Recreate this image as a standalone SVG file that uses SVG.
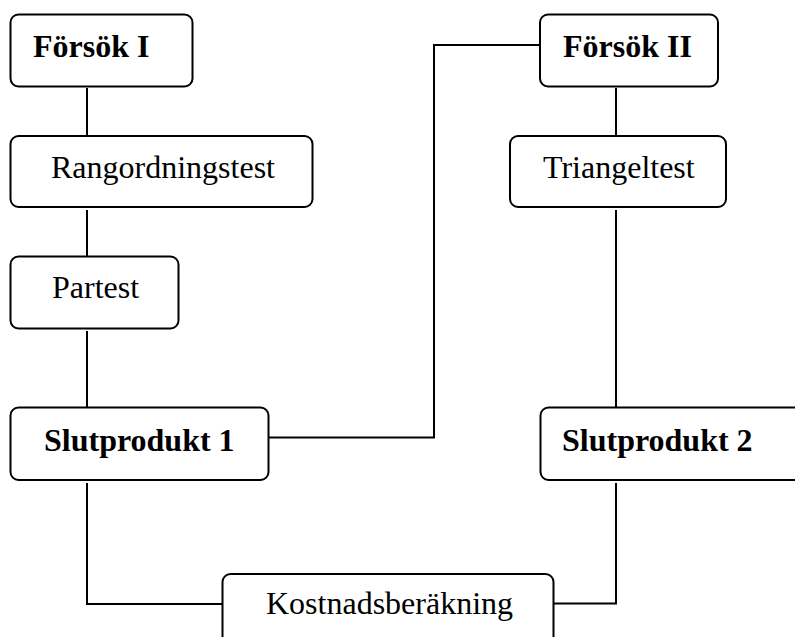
<svg xmlns="http://www.w3.org/2000/svg" width="795" height="637" viewBox="0 0 795 637">
<style>
.box{fill:#fff;stroke:#000;stroke-width:2}
.con{fill:none;stroke:#000;stroke-width:2}
.t{font-family:"Liberation Serif","Times New Roman",serif;font-size:32px;fill:#000}
.b{font-weight:bold}
</style>
<rect width="795" height="637" fill="#fff"/>
<g id="connectors">
<path class="con" d="M87 88V136"/>
<path class="con" d="M87 210V256"/>
<path class="con" d="M87 331V407"/>
<path class="con" d="M87 483V604H222"/>
<path class="con" d="M269 437.5H434V45H540"/>
<path class="con" d="M616 88V136"/>
<path class="con" d="M616 210V407"/>
<path class="con" d="M554 603.5H616V483"/>
</g>
<g id="forsok1">
<rect class="box" x="10.5" y="14.5" width="182" height="72" rx="8"/>
<text class="t b" x="33" y="57">Försök I</text>
</g>
<g id="rangordningstest">
<rect class="box" x="10.5" y="136" width="302" height="71" rx="8"/>
<text class="t" x="51" y="178">Rangordningstest</text>
</g>
<g id="partest">
<rect class="box" x="10.5" y="256.5" width="168" height="72" rx="8"/>
<text class="t" x="52" y="298">Partest</text>
</g>
<g id="slutprodukt1">
<rect class="box" x="10.5" y="407.5" width="258" height="72.5" rx="8"/>
<text class="t b" x="44" y="451">Slutprodukt 1</text>
</g>
<g id="forsok2">
<rect class="box" x="540" y="14.5" width="178" height="72" rx="8"/>
<text class="t b" x="563" y="57">Försök II</text>
</g>
<g id="triangeltest">
<rect class="box" x="510" y="136" width="216" height="71" rx="8"/>
<text class="t" x="543" y="178">Triangeltest</text>
</g>
<g id="slutprodukt2">
<rect class="box" x="540.5" y="407.5" width="280" height="72.5" rx="8"/>
<text class="t b" x="562" y="451">Slutprodukt 2</text>
</g>
<g id="kostnadsberakning">
<rect class="box" x="222.5" y="574" width="331" height="90" rx="8"/>
<text class="t" x="266" y="614">Kostnadsberäkning</text>
</g>
</svg>
